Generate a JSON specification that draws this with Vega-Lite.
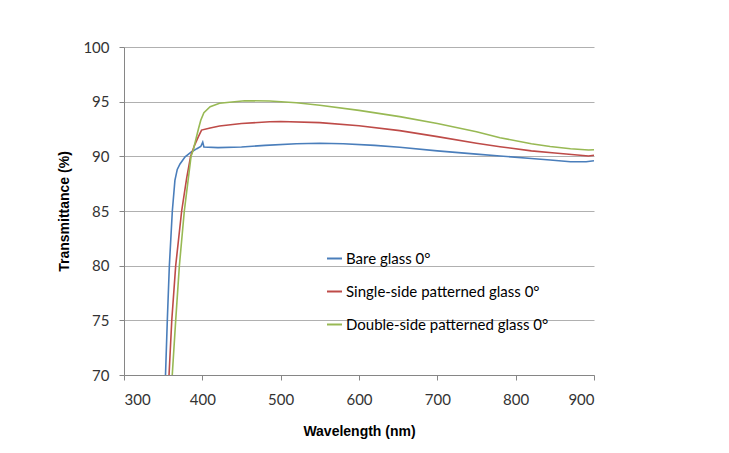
{
  "$schema": "https://vega.github.io/schema/vega-lite/v6.json",
  "width": 470,
  "height": 328,
  "autosize": {"type": "none"},
  "padding": {"left": 124, "top": 47, "right": 135, "bottom": 78},
  "background": "white",
  "config": {
    "view": {"stroke": null},
    "font": "Lato",
    "axis": {"labelFont": "Lato", "titleFont": "Liberation Sans"}
  },
  "data": {
    "values": [
      {"s": "Bare glass 0°", "wl": 353, "t": 70},
      {"s": "Bare glass 0°", "wl": 355.3, "t": 75},
      {"s": "Bare glass 0°", "wl": 357.9, "t": 80},
      {"s": "Bare glass 0°", "wl": 361.7, "t": 85},
      {"s": "Bare glass 0°", "wl": 365, "t": 87.8},
      {"s": "Bare glass 0°", "wl": 368, "t": 88.8},
      {"s": "Bare glass 0°", "wl": 371.5, "t": 89.3},
      {"s": "Bare glass 0°", "wl": 378, "t": 89.95},
      {"s": "Bare glass 0°", "wl": 386, "t": 90.4},
      {"s": "Bare glass 0°", "wl": 393, "t": 90.7},
      {"s": "Bare glass 0°", "wl": 398, "t": 90.9},
      {"s": "Bare glass 0°", "wl": 400.5, "t": 91.3},
      {"s": "Bare glass 0°", "wl": 402, "t": 90.85},
      {"s": "Bare glass 0°", "wl": 420, "t": 90.8},
      {"s": "Bare glass 0°", "wl": 450, "t": 90.85},
      {"s": "Bare glass 0°", "wl": 480, "t": 91.0},
      {"s": "Bare glass 0°", "wl": 520, "t": 91.15},
      {"s": "Bare glass 0°", "wl": 550, "t": 91.2},
      {"s": "Bare glass 0°", "wl": 580, "t": 91.15},
      {"s": "Bare glass 0°", "wl": 620, "t": 91.0},
      {"s": "Bare glass 0°", "wl": 652, "t": 90.83},
      {"s": "Bare glass 0°", "wl": 700, "t": 90.5},
      {"s": "Bare glass 0°", "wl": 750, "t": 90.2},
      {"s": "Bare glass 0°", "wl": 780, "t": 90.03},
      {"s": "Bare glass 0°", "wl": 820, "t": 89.8},
      {"s": "Bare glass 0°", "wl": 844, "t": 89.66},
      {"s": "Bare glass 0°", "wl": 870, "t": 89.5},
      {"s": "Bare glass 0°", "wl": 890, "t": 89.5},
      {"s": "Bare glass 0°", "wl": 900, "t": 89.6},
      {"s": "Single-side patterned glass 0°", "wl": 357.5, "t": 70},
      {"s": "Single-side patterned glass 0°", "wl": 361, "t": 75},
      {"s": "Single-side patterned glass 0°", "wl": 366, "t": 80},
      {"s": "Single-side patterned glass 0°", "wl": 373.6, "t": 85},
      {"s": "Single-side patterned glass 0°", "wl": 380, "t": 88},
      {"s": "Single-side patterned glass 0°", "wl": 385, "t": 90},
      {"s": "Single-side patterned glass 0°", "wl": 390, "t": 91},
      {"s": "Single-side patterned glass 0°", "wl": 395, "t": 91.8},
      {"s": "Single-side patterned glass 0°", "wl": 399, "t": 92.4},
      {"s": "Single-side patterned glass 0°", "wl": 410, "t": 92.6},
      {"s": "Single-side patterned glass 0°", "wl": 422, "t": 92.77},
      {"s": "Single-side patterned glass 0°", "wl": 450, "t": 93.0},
      {"s": "Single-side patterned glass 0°", "wl": 486, "t": 93.17},
      {"s": "Single-side patterned glass 0°", "wl": 500, "t": 93.18},
      {"s": "Single-side patterned glass 0°", "wl": 550, "t": 93.08},
      {"s": "Single-side patterned glass 0°", "wl": 600, "t": 92.8},
      {"s": "Single-side patterned glass 0°", "wl": 652, "t": 92.35},
      {"s": "Single-side patterned glass 0°", "wl": 700, "t": 91.8},
      {"s": "Single-side patterned glass 0°", "wl": 750, "t": 91.2},
      {"s": "Single-side patterned glass 0°", "wl": 780, "t": 90.88},
      {"s": "Single-side patterned glass 0°", "wl": 820, "t": 90.5},
      {"s": "Single-side patterned glass 0°", "wl": 850, "t": 90.3},
      {"s": "Single-side patterned glass 0°", "wl": 893, "t": 90.03},
      {"s": "Single-side patterned glass 0°", "wl": 900, "t": 90.1},
      {"s": "Double-side patterned glass 0°", "wl": 361.6, "t": 70},
      {"s": "Double-side patterned glass 0°", "wl": 366, "t": 75},
      {"s": "Double-side patterned glass 0°", "wl": 370.7, "t": 80},
      {"s": "Double-side patterned glass 0°", "wl": 377, "t": 85},
      {"s": "Double-side patterned glass 0°", "wl": 385.6, "t": 90},
      {"s": "Double-side patterned glass 0°", "wl": 388.5, "t": 90.6},
      {"s": "Double-side patterned glass 0°", "wl": 395, "t": 92.5},
      {"s": "Double-side patterned glass 0°", "wl": 398, "t": 93.3},
      {"s": "Double-side patterned glass 0°", "wl": 402, "t": 94.0},
      {"s": "Double-side patterned glass 0°", "wl": 410, "t": 94.54},
      {"s": "Double-side patterned glass 0°", "wl": 422, "t": 94.85},
      {"s": "Double-side patterned glass 0°", "wl": 454, "t": 95.09},
      {"s": "Double-side patterned glass 0°", "wl": 486, "t": 95.06},
      {"s": "Double-side patterned glass 0°", "wl": 520, "t": 94.9},
      {"s": "Double-side patterned glass 0°", "wl": 550, "t": 94.67},
      {"s": "Double-side patterned glass 0°", "wl": 600, "t": 94.2},
      {"s": "Double-side patterned glass 0°", "wl": 652, "t": 93.63},
      {"s": "Double-side patterned glass 0°", "wl": 700, "t": 93.0},
      {"s": "Double-side patterned glass 0°", "wl": 750, "t": 92.25},
      {"s": "Double-side patterned glass 0°", "wl": 780, "t": 91.7},
      {"s": "Double-side patterned glass 0°", "wl": 820, "t": 91.15},
      {"s": "Double-side patterned glass 0°", "wl": 844, "t": 90.9},
      {"s": "Double-side patterned glass 0°", "wl": 870, "t": 90.7},
      {"s": "Double-side patterned glass 0°", "wl": 893, "t": 90.58},
      {"s": "Double-side patterned glass 0°", "wl": 900, "t": 90.6}
    ]
  },
  "mark": {"type": "line", "strokeWidth": 1.6, "clip": true},
  "encoding": {
    "x": {
      "field": "wl", "type": "quantitative",
      "scale": {"domain": [300, 900], "nice": false, "zero": false},
      "axis": {
        "title": "Wavelength (nm)", "values": [300, 400, 500, 600, 700, 800, 900],
        "grid": false, "domainColor": "#868686", "tickColor": "#868686", "tickSize": 5,
        "labelFontSize": 15, "labelColor": "#333333", "labelPadding": 12,
        "titleFontSize": 14, "titleFontWeight": "bold", "titleColor": "#000000", "titlePadding": 17
      }
    },
    "y": {
      "field": "t", "type": "quantitative",
      "scale": {"domain": [70, 100], "nice": false, "zero": false},
      "axis": {
        "title": "Transmittance (%)", "values": [70, 75, 80, 85, 90, 95, 100],
        "grid": true, "gridColor": "#b0b0b0", "domainColor": "#868686", "tickColor": "#868686", "tickSize": 5,
        "labelFontSize": 15, "labelColor": "#333333", "labelPadding": 10,
        "titleFontSize": 14, "titleFontWeight": "bold", "titleColor": "#000000", "titlePadding": 11
      }
    },
    "color": {
      "field": "s", "type": "nominal",
      "sort": ["Bare glass 0°", "Single-side patterned glass 0°", "Double-side patterned glass 0°"],
      "scale": {
        "domain": ["Bare glass 0°", "Single-side patterned glass 0°", "Double-side patterned glass 0°"],
        "range": ["#4a7ebb", "#be4b48", "#98b954"]
      },
      "legend": {
        "title": null, "orient": "none", "legendX": 202, "legendY": 203,
        "symbolType": "stroke", "symbolSize": 225, "symbolStrokeWidth": 2,
        "labelFontSize": 15, "labelFont": "Lato", "labelColor": "#000000", "labelLimit": 400,
        "rowPadding": 16, "labelOffset": 3
      }
    }
  }
}
